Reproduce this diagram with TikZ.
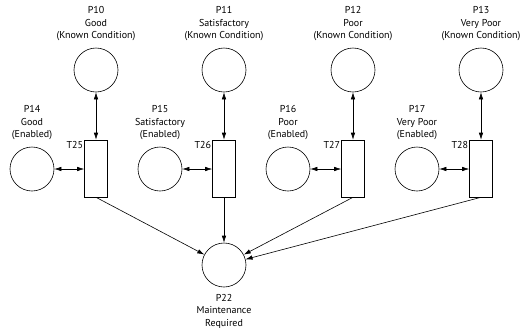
\documentclass[tikz,border=0pt]{standalone}
\usepackage{fontspec}
\setmainfont{PT Sans}
\usetikzlibrary{arrows.meta}
\begin{document}
\begin{tikzpicture}[x=1pt,y=-1pt,
  place/.style={circle,draw,line width=0.6pt,minimum size=44pt,inner sep=0pt},
  trans/.style={rectangle,draw,line width=0.6pt,minimum width=23pt,minimum height=57pt,inner sep=0pt},
  lbl/.style={align=center,font=\fontsize{10}{12.5}\selectfont,inner sep=0pt},
  tlbl/.style={font=\fontsize{10}{11}\selectfont,inner sep=1pt},
  arc/.style={line width=0.6pt,-{Latex[length=7pt,width=4.5pt]}},
  darc/.style={line width=0.6pt,{Latex[length=7pt,width=4.5pt]}-{Latex[length=7pt,width=4.5pt]}}]
\useasboundingbox (0,0) rectangle (520,330);
% top places
\node[place] (P10) at (96,70) {};
\node[place] (P11) at (224,70) {};
\node[place] (P12) at (353,70) {};
\node[place] (P13) at (481,70) {};
\node[lbl] (L10) at (96,24) {P10\\Good\\(Known Condition)};
\node[lbl] (L11) at (224,24) {P11\\Satisfactory\\(Known Condition)};
\node[lbl] (L12) at (353,24) {P12\\Poor\\(Known Condition)};
\node[lbl] (L13) at (481,24) {P13\\Very Poor\\(Known Condition)};
% transitions
\node[trans] (T25) at (96,168.5) {};
\node[trans] (T26) at (224,168.5) {};
\node[trans] (T27) at (353,168.5) {};
\node[trans] (T28) at (481,168.5) {};
\node[tlbl,anchor=north east] (LT25) at (T25.north west) {T25};
\node[tlbl,anchor=north east] (LT26) at (T26.north west) {T26};
\node[tlbl,anchor=north east] (LT27) at (T27.north west) {T27};
\node[tlbl,anchor=north east] (LT28) at (T28.north west) {T28};
% left places
\node[place] (P14) at (32,169) {};
\node[place] (P15) at (160,169) {};
\node[place] (P16) at (288,169) {};
\node[place] (P17) at (417,169) {};
\node[lbl] (L14) at (32,123) {P14\\Good\\(Enabled)};
\node[lbl] (L15) at (160,123) {P15\\Satisfactory\\(Enabled)};
\node[lbl] (L16) at (288,123) {P16\\Poor\\(Enabled)};
\node[lbl] (L17) at (417,123) {P17\\Very Poor\\(Enabled)};
% bottom place
\node[place] (P22) at (224,265) {};
\node[lbl] (L22) at (224,311) {P22\\Maintenance\\Required};
% arcs
\draw[darc] (P10) -- (T25);
\draw[darc] (P11) -- (T26);
\draw[darc] (P12) -- (T27);
\draw[darc] (P13) -- (T28);
\draw[darc] (P14) -- (P14 -| T25.west);
\draw[darc] (P15) -- (P15 -| T26.west);
\draw[darc] (P16) -- (P16 -| T27.west);
\draw[darc] (P17) -- (P17 -| T28.west);
\draw[arc] (T25.south) -- (P22);
\draw[arc] (T26.south) -- (P22);
\draw[arc] (T27.south) -- (P22);
\draw[arc] (T28.south) -- (P22);
\end{tikzpicture}
\end{document}
